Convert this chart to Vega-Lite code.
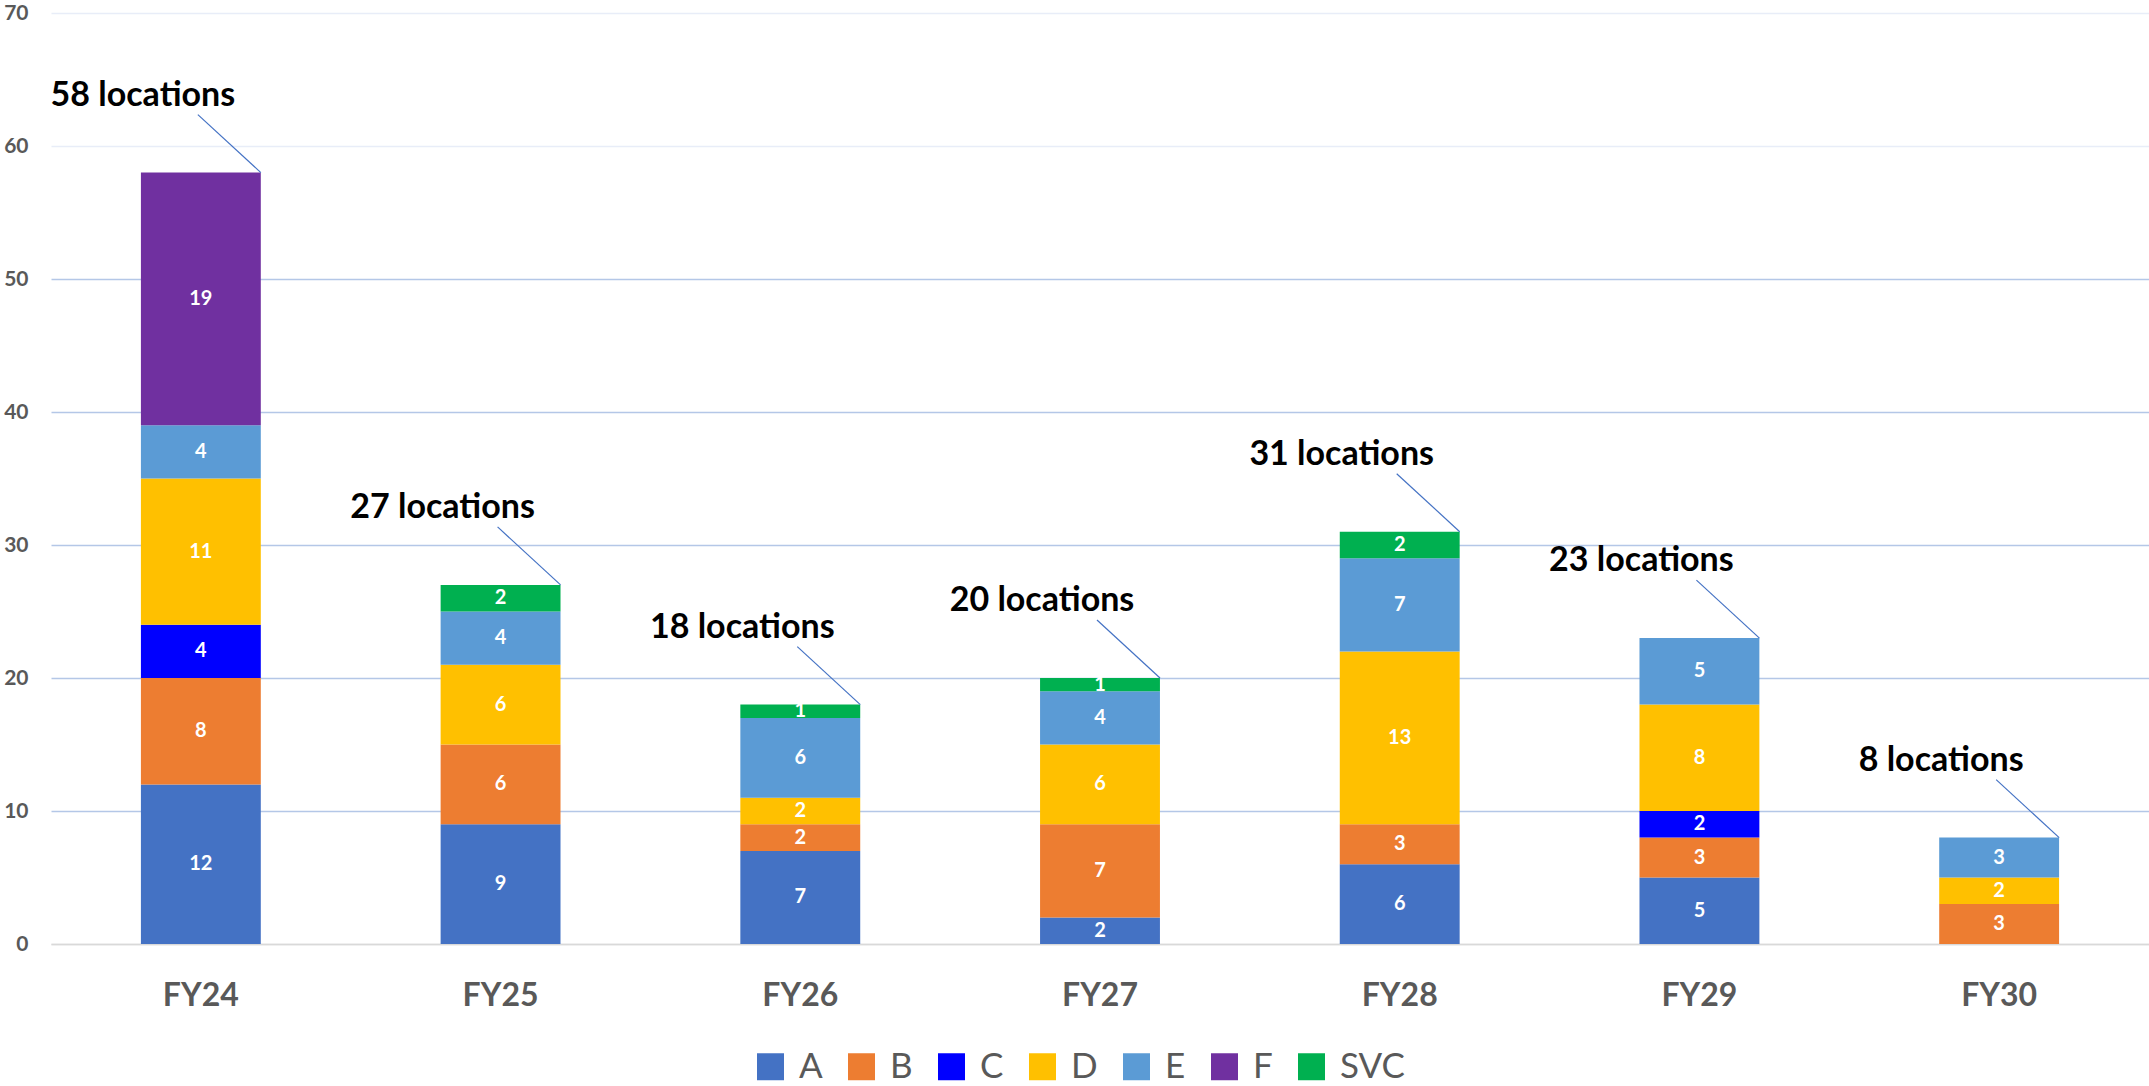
{
  "$schema": "https://vega.github.io/schema/vega-lite/v6.json",
  "width": 2098,
  "height": 931,
  "autosize": {"type": "none"},
  "padding": {"left": 51, "top": 13, "right": 0, "bottom": 142},
  "background": "white",
  "config": {"view": {"stroke": null}, "font": "Lato"},
  "datasets": {
    "segs": [
      {"year": "FY24", "series": "A", "value": 12},
      {"year": "FY24", "series": "B", "value": 8},
      {"year": "FY24", "series": "C", "value": 4},
      {"year": "FY24", "series": "D", "value": 11},
      {"year": "FY24", "series": "E", "value": 4},
      {"year": "FY24", "series": "F", "value": 19},
      {"year": "FY25", "series": "A", "value": 9},
      {"year": "FY25", "series": "B", "value": 6},
      {"year": "FY25", "series": "D", "value": 6},
      {"year": "FY25", "series": "E", "value": 4},
      {"year": "FY25", "series": "SVC", "value": 2},
      {"year": "FY26", "series": "A", "value": 7},
      {"year": "FY26", "series": "B", "value": 2},
      {"year": "FY26", "series": "D", "value": 2},
      {"year": "FY26", "series": "E", "value": 6},
      {"year": "FY26", "series": "SVC", "value": 1},
      {"year": "FY27", "series": "A", "value": 2},
      {"year": "FY27", "series": "B", "value": 7},
      {"year": "FY27", "series": "D", "value": 6},
      {"year": "FY27", "series": "E", "value": 4},
      {"year": "FY27", "series": "SVC", "value": 1},
      {"year": "FY28", "series": "A", "value": 6},
      {"year": "FY28", "series": "B", "value": 3},
      {"year": "FY28", "series": "D", "value": 13},
      {"year": "FY28", "series": "E", "value": 7},
      {"year": "FY28", "series": "SVC", "value": 2},
      {"year": "FY29", "series": "A", "value": 5},
      {"year": "FY29", "series": "B", "value": 3},
      {"year": "FY29", "series": "C", "value": 2},
      {"year": "FY29", "series": "D", "value": 8},
      {"year": "FY29", "series": "E", "value": 5},
      {"year": "FY30", "series": "B", "value": 3},
      {"year": "FY30", "series": "D", "value": 2},
      {"year": "FY30", "series": "E", "value": 3}
    ],
    "totals": [
      {"year": "FY24", "total": 58, "label": "58 locations"},
      {"year": "FY25", "total": 27, "label": "27 locations"},
      {"year": "FY26", "total": 18, "label": "18 locations"},
      {"year": "FY27", "total": 20, "label": "20 locations"},
      {"year": "FY28", "total": 31, "label": "31 locations"},
      {"year": "FY29", "total": 23, "label": "23 locations"},
      {"year": "FY30", "total": 8, "label": "8 locations"}
    ]
  },
  "layer": [
    {
      "data": {"name": "segs"},
      "transform": [
        {"stack": "value", "groupby": ["year"], "sort": [{"field": "series", "order": "ascending"}], "as": ["v0", "v1"]},
        {"calculate": "(datum.v0 + datum.v1) / 2", "as": "mid"}
      ],
      "layer": [
        {
          "mark": {"type": "bar"},
          "encoding": {
            "x": {
              "field": "year", "type": "nominal",
              "scale": {"paddingInner": 0.6, "paddingOuter": 0.3},
              "axis": {
                "title": null, "labelAngle": 0, "labelFontSize": 32, "labelFontWeight": "bold",
                "labelColor": "#595959", "labelPadding": 36, "ticks": false,
                "domainColor": "#D9D9D9", "domainWidth": 1.5, "labelFont": "Lato"
              }
            },
            "y": {
              "field": "v1", "type": "quantitative",
              "scale": {"domain": [0, 70], "nice": false},
              "axis": {
                "title": null, "values": [0, 10, 20, 30, 40, 50, 60, 70],
                "labelFontSize": 21, "labelFontWeight": "bold", "labelColor": "#595959",
                "labelPadding": 23, "ticks": false, "domain": false,
                "gridColor": {"condition": [
                  {"test": "datum.value >= 60", "value": "#E8EDF8"},
                  {"test": "datum.value == 0", "value": "#D9D9D9"}
                ], "value": "#B4C7E7"},
                "gridWidth": 1.3
              }
            },
            "y2": {"field": "v0"},
            "color": {
              "field": "series", "type": "nominal",
              "scale": {
                "domain": ["A", "B", "C", "D", "E", "F", "SVC"],
                "range": ["#4472C4", "#ED7D31", "#0000FF", "#FFC000", "#5B9BD5", "#7030A0", "#00B050"]
              },
              "legend": {
                "title": null, "orient": "none", "direction": "horizontal",
                "legendX": 702, "legendY": 1036,
                "labelFontSize": 35, "labelColor": "#595959", "labelFont": "Lato",
                "symbolType": "square", "symbolSize": 729,
                "symbolStrokeWidth": 0, "symbolOpacity": 1,
                "columnPadding": 21, "labelOffset": 11, "padding": 0
              }
            }
          }
        },
        {
          "mark": {"type": "text", "color": "white", "fontSize": 20, "fontWeight": "bold", "baseline": "middle"},
          "encoding": {
            "x": {"field": "year", "type": "nominal"},
            "y": {"field": "mid", "type": "quantitative"},
            "text": {"field": "value", "type": "quantitative"}
          }
        }
      ]
    },
    {
      "data": {"name": "totals"},
      "layer": [
        {
          "mark": {"type": "rule", "color": "#4472C4", "strokeWidth": 1.2, "xOffset": 60, "x2Offset": -3, "y2Offset": -58},
          "encoding": {
            "x": {"field": "year", "type": "nominal"},
            "x2": {"field": "year"},
            "y": {"field": "total", "type": "quantitative"},
            "y2": {"field": "total"}
          }
        },
        {
          "mark": {"type": "text", "color": "black", "fontSize": 34, "fontWeight": "bold", "baseline": "middle", "align": "center", "xOffset": -58, "yOffset": -77},
          "encoding": {
            "x": {"field": "year", "type": "nominal"},
            "y": {"field": "total", "type": "quantitative"},
            "text": {"field": "label"}
          }
        }
      ]
    }
  ]
}
